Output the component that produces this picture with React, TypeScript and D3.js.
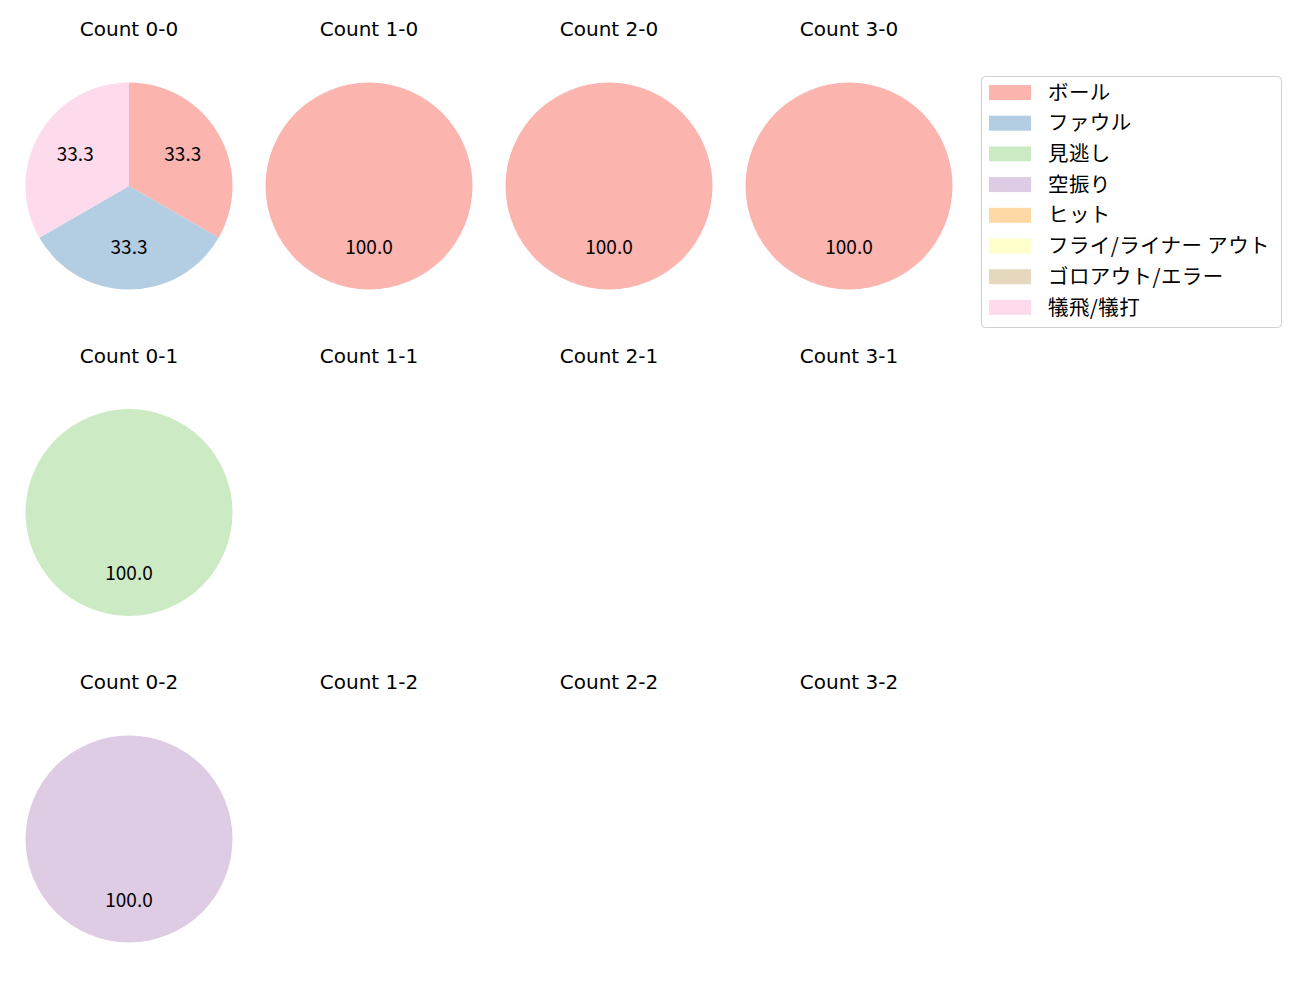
import * as d3 from "d3";

// pitch result categories and colours (Pastel1)
const categories = ["ボール", "ファウル", "見逃し", "空振り", "ヒット", "フライ/ライナー アウト", "ゴロアウト/エラー", "犠飛/犠打"];
const colors = ["#fbb4ae", "#b3cde3", "#ccebc5", "#decbe4", "#fed9a6", "#ffffcc", "#e5d8bd", "#fddaec"];

const balls = [0, 1, 2, 3];
const strikes = [0, 1, 2];

// counts per category for each ball-strike count, empty = no pitches
const count00 = [1, 1, 0, 0, 0, 0, 0, 1];
const count10 = [1, 0, 0, 0, 0, 0, 0, 0];
const count20 = [1, 0, 0, 0, 0, 0, 0, 0];
const count30 = [1, 0, 0, 0, 0, 0, 0, 0];
const count01 = [0, 0, 1, 0, 0, 0, 0, 0];
const count02 = [0, 0, 0, 1, 0, 0, 0, 0];

const cellData: Record<string, number[]> = {
    "0-0": count00, "1-0": count10, "2-0": count20, "3-0": count30,
    "0-1": count01, "0-2": count02,
};

const FONT = "'Noto Sans CJK JP', 'Noto Sans', sans-serif";
const TITLE_FONT = "'DejaVu Sans', 'Noto Sans CJK JP', sans-serif";

const App = () => {
    const width = 1300, height = 1000;
    const radius = 103.5;

    const x = d3.scalePoint<number>().domain(balls).range([129, 849]);
    const y = d3.scalePoint<number>().domain(strikes).range([186, 839]);

    const pie = d3.pie<number>().sort(null).value(d => d);
    const arc = d3.arc<d3.PieArcDatum<number>>().innerRadius(0).outerRadius(radius);
    const labelArc = d3.arc<d3.PieArcDatum<number>>().innerRadius(radius * 0.6).outerRadius(radius * 0.6);

    const cells: { b: number, s: number }[] = [];
    strikes.forEach(s => balls.forEach(b => cells.push({b, s})));

    return (
        <svg width={width} height={height} style={{display: "block", position: "absolute", left: 0, top: 0}}
             fontFamily={FONT}>
            <rect width={width} height={height} fill="white"/>
            {cells.map(({b, s}) => {
                const key = `${b}-${s}`;
                const values = cellData[key];
                const total = values ? d3.sum(values) : 0;
                const arcs = values ? pie(values) : [];
                return (
                    <g key={key} transform={`translate(${x(b)},${y(s)})`}>
                        <text y={-157} dy="0.35em" textAnchor="middle" fontSize={20} fontFamily={TITLE_FONT}
                              fill="#000">Count {key}</text>
                        {arcs.filter(a => a.value > 0).map((a, i) => (
                            <path key={"p" + i} d={arc(a) ?? ""} fill={colors[a.index]}/>
                        ))}
                        {arcs.filter(a => a.value > 0).map((a, i) => {
                            const [lx, ly] = labelArc.centroid(a);
                            return (
                                <text key={"t" + i} x={lx} y={ly - 1} dy="0.35em" textAnchor="middle" fontSize={19}
                                      fill="#000">{(a.value / total * 100).toFixed(1)}</text>
                            );
                        })}
                    </g>
                );
            })}
            <g transform="translate(981,76)">
                <rect x={0.5} y={0.5} width={300} height={251} rx={4} fill="white" stroke="#d0d0d0"/>
                {categories.map((c, i) => (
                    <g key={c} transform={`translate(0,${16.5 + i * 30.7})`}>
                        <rect x={8} y={-7.5} width={42} height={15} fill={colors[i]}/>
                        <text x={67} dy="0.35em" fontSize={20.5} letterSpacing={0.4} fill="#000">{c}</text>
                    </g>
                ))}
            </g>
        </svg>
    );
};

export default App;
